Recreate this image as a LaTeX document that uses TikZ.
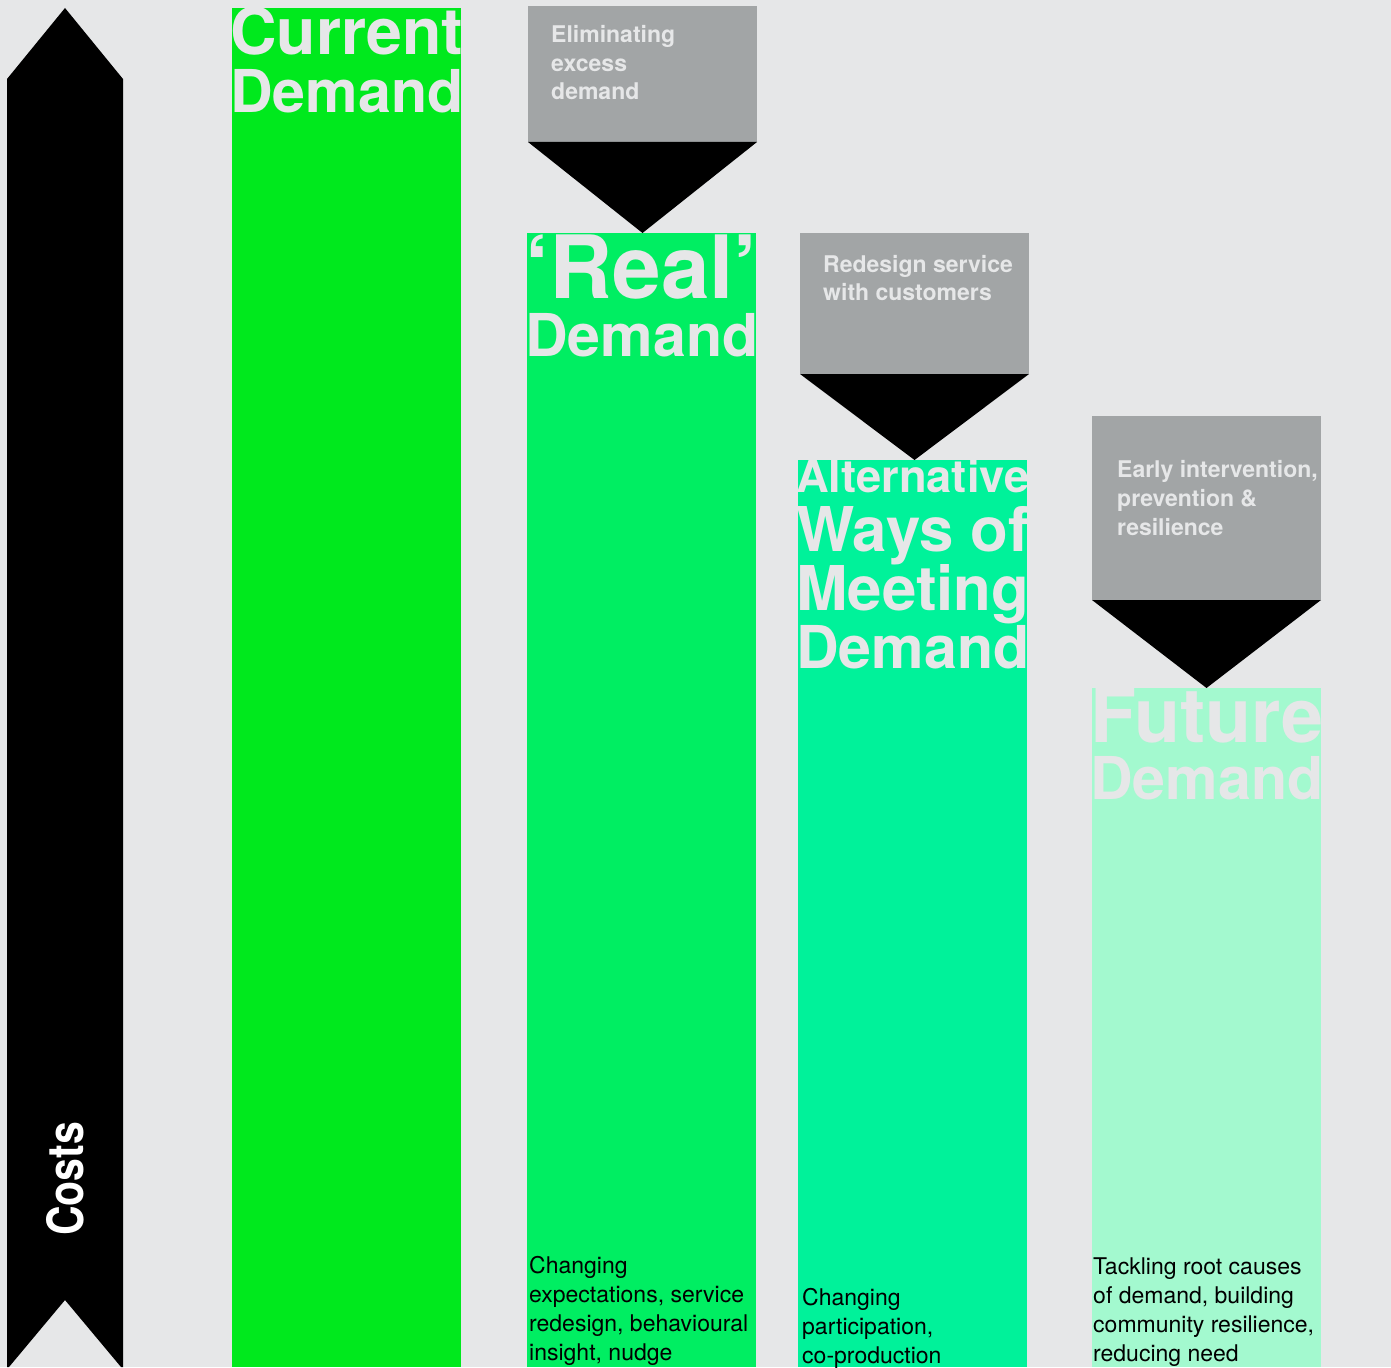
\documentclass[tikz,border=0pt]{standalone}
\usepackage{fontspec}
\setmainfont{TeX Gyre Heros}
\usepackage{graphicx}
\usetikzlibrary{calc}

\definecolor{paper}{HTML}{E6E7E8}
\definecolor{slate}{HTML}{A2A5A6}
\definecolor{greenA}{HTML}{00E91D}
\definecolor{greenB}{HTML}{00EE62}
\definecolor{greenC}{HTML}{00F29A}
\definecolor{greenD}{HTML}{A3F9CF}

\tikzset{
	bar/.style={rectangle,inner sep=0pt,outer sep=0pt,anchor=north west,minimum width=229pt},
	note/.style={rectangle,fill=slate,inner sep=0pt,outer sep=0pt,anchor=north west,minimum width=229pt},
	headline/.style={inner sep=0pt,anchor=base west,text=paper,font=\bfseries,xshift=-2pt},
	notetext/.style={inner sep=0pt,anchor=base west,text=paper,font=\fontsize{23}{29}\selectfont\bfseries},
	bodytext/.style={inner sep=0pt,anchor=base west,text=black,font=\fontsize{23}{29}\selectfont},
}
\newcommand{\fitline}[1]{\resizebox{233pt}{!}{#1}}
% style, name, x, first baseline, leading, lines
\newcommand{\linesat}[6]{%
	\foreach \txt [count=\i from 0] in {#6}
		\node[#1] (#2-\i) at (#3,{#4+#5*\i}) {\txt};}

\begin{document}
\begin{tikzpicture}[x=1pt,y=-1pt]
	\fill[paper] (0,0) rectangle (1391,1367);
	\useasboundingbox (0,0) rectangle (1391,1367);
	
	% costs arrow
	\fill[black] (65,8) -- (123,79) -- (123,1367) -- (121,1367) -- (65,1300) -- (9,1367) -- (7,1367) -- (7,79) -- cycle;
	\node[rotate=90,text=white,inner sep=0pt,font=\fontsize{50}{50}\selectfont\bfseries] (costs) at (65,1179) {\scalebox{0.82}[1]{Costs}};
	
	% demand bars
	\node[bar,fill=greenA,minimum height=1359pt] (current) at (232,8) {};
	\node[bar,fill=greenB,minimum height=1134pt] (real) at (527,233) {};
	\node[bar,fill=greenC,minimum height=907pt] (altern) at (798,460) {};
	\node[bar,fill=greenD,minimum height=679pt] (future) at (1092,688) {};
	
	% measures
	\node[note,minimum height=136pt] (excess) at (528,6) {};
	\node[note,minimum height=141pt] (redesign) at (800,233) {};
	\node[note,minimum height=184pt] (early) at (1092,416) {};
	
	\fill (excess.south west) -- (excess.south east) -- (excess.south |- real.north) -- cycle;
	\fill (redesign.south west) -- (redesign.south east) -- (redesign.south |- altern.north) -- cycle;
	\fill (early.south west) -- (early.south east) -- (early.south |- future.north) -- cycle;
	
	% titles
	\foreach \txt/\yy [count=\i] in {Current/55,Demand/113}
		\node[headline] (current-title-\i) at (232,\yy) {\fitline{\txt}};
	\foreach \txt/\yy [count=\i] in {‘Real’/298,Demand/356}
		\node[headline] (real-title-\i) at (527,\yy) {\fitline{\txt}};
	\foreach \txt/\yy [count=\i] in {Alternative/492,Ways of/551,Meeting/610,Demand/668}
		\node[headline] (altern-title-\i) at (798,\yy) {\fitline{\txt}};
	\foreach \txt/\yy [count=\i] in {Future/742,Demand/799}
		\node[headline] (future-title-\i) at (1092,\yy) {\fitline{\txt}};
	
	\linesat{notetext}{excess-text}{551}{43}{28.5}{Eliminating,excess,demand}
	\linesat{notetext}{redesign-text}{823}{272}{28.5}{Redesign service,with customers}
	\linesat{notetext}{early-text}{1117}{477}{29}{{Early intervention,},prevention \&,resilience}
	
	\linesat{bodytext}{real-text}{529}{1273}{29}{Changing,{expectations, service},{redesign, behavioural},{insight, nudge}}
	\linesat{bodytext}{altern-text}{802}{1305}{29}{Changing,{participation,},co-production}
	\linesat{bodytext}{future-text}{1093}{1274}{29}{Tackling root causes,{of demand, building},{community resilience,},reducing need}
\end{tikzpicture}
\end{document}
